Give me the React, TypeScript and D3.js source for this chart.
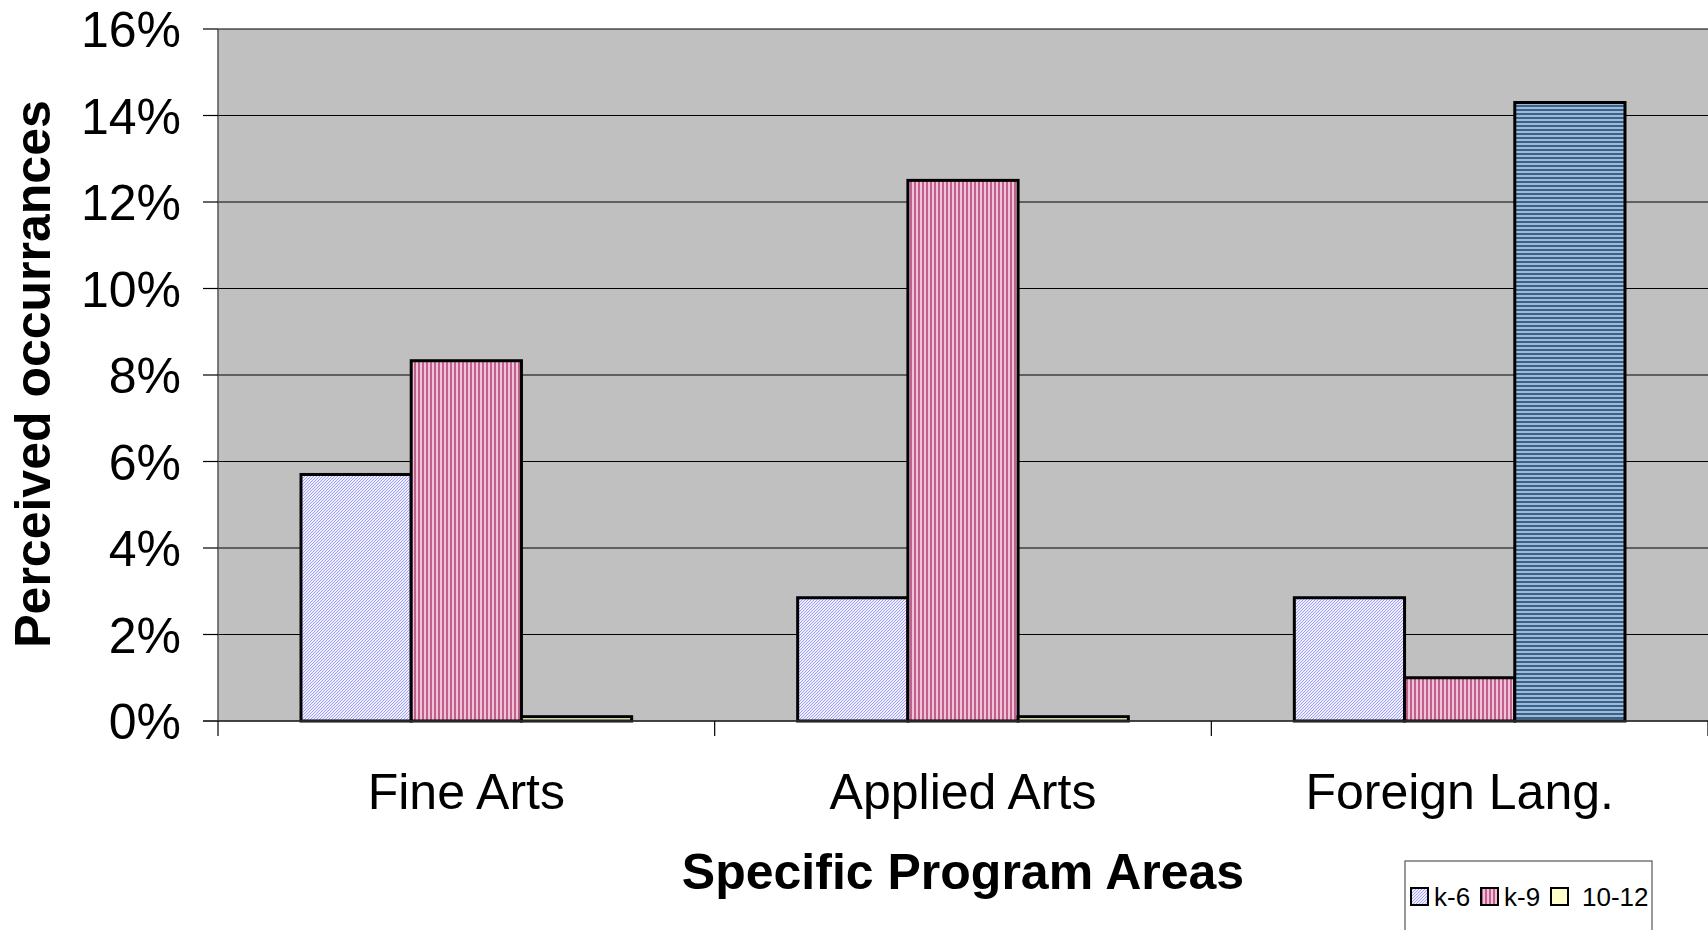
import React from 'react';
import * as d3 from 'd3';

const categories = ['Fine Arts', 'Applied Arts', 'Foreign Lang.'];
const seriesNames = ['k-6', 'k-9', '10-12'];
const k6 = [5.7, 2.85, 2.85];
const k9 = [8.33, 12.5, 1.0];
const g1012 = [0.1, 0.1, 14.3];
const yTicks = [0, 2, 4, 6, 8, 10, 12, 14, 16];

const W = 1708;
const H = 930;
const margin = { top: 29, right: 0, bottom: 209, left: 218 };

const fills = ['url(#pK6)', 'url(#pK9)', '#ffffcc'];

const App = () => {
  const innerW = W - margin.left - margin.right;
  const innerH = H - margin.top - margin.bottom;

  const x = d3.scaleBand().domain(categories).range([0, innerW]).paddingInner(0).paddingOuter(0);
  const xSub = d3.scaleBand().domain(seriesNames).range([83, x.bandwidth() - 83]);
  const y = d3.scaleLinear().domain([0, 16]).range([innerH, 0]);

  const series = [k6, k9, g1012];
  const bars = categories.flatMap((c, ci) =>
    series.map((vals, si) => ({ c, s: seriesNames[si], v: vals[ci], ci, si }))
  );

  return (
    <svg width={W} height={H} style={{ position: 'absolute', left: 0, top: 0, background: '#fff' }}
      fontFamily="'Liberation Sans', Arial, sans-serif">
      <defs>
        <pattern id="pK6" width="3" height="3" patternUnits="userSpaceOnUse">
          <rect width="3" height="3" fill="#eeeeff" />
          <path d="M0,3 L3,0 M-1,1 L1,-1 M2,4 L4,2" stroke="#a0a0ff" strokeWidth="1" />
        </pattern>
        <pattern id="pK9" width="4" height="4" patternUnits="userSpaceOnUse">
          <rect width="4" height="4" fill="#f0c2d6" />
          <rect width="2" height="4" fill="#c0608e" />
        </pattern>
        <pattern id="pBlue" width="4" height="4" patternUnits="userSpaceOnUse">
          <rect width="4" height="4" fill="#a3b9d2" />
          <rect width="4" height="2" fill="#35638f" />
        </pattern>
      </defs>
      <g transform={`translate(${margin.left},${margin.top})`}>
        <rect width={innerW} height={innerH} fill="#c0c0c0" />
        {yTicks.map(t => (
          <line key={t} x1={0} x2={innerW} y1={y(t)} y2={y(t)} stroke="#000" strokeWidth={1.2} />
        ))}
        <line x1={0} x2={0} y1={0} y2={innerH} stroke="#555" strokeWidth={1.5} />
        {bars.map(b => {
          const bx = (x(b.c) ?? 0) + (xSub(b.s) ?? 0);
          const special = b.ci === 2 && b.si === 2;
          return (
            <rect key={b.c + b.s} x={bx} y={y(b.v)} width={xSub.bandwidth()} height={innerH - y(b.v)}
              fill={special ? 'url(#pBlue)' : fills[b.si]} stroke="#000" strokeWidth={3} />
          );
        })}
        {/* y axis ticks */}
        {yTicks.map(t => (
          <g key={'yt' + t}>
            <line x1={-15} x2={0} y1={y(t)} y2={y(t)} stroke="#000" strokeWidth={1.2} />
            <text x={-37} y={y(t)} dy="0.36em" textAnchor="end" fontSize={50}>{t}%</text>
          </g>
        ))}
        {/* x axis */}
        <line x1={-15} x2={innerW} y1={innerH} y2={innerH} stroke="#333" strokeWidth={1.5} />
        {[...categories.map(c => x(c) ?? 0), innerW].map((tx, i) => (
          <line key={'xt' + i} x1={tx} x2={tx} y1={innerH} y2={innerH + 15} stroke="#000" strokeWidth={1.2} />
        ))}
        {categories.map(c => (
          <text key={'xl' + c} x={(x(c) ?? 0) + x.bandwidth() / 2} y={innerH + 88} textAnchor="middle" fontSize={50}>{c}</text>
        ))}
      </g>
      <text x={963} y={889} textAnchor="middle" fontSize={50} fontWeight="bold">Specific Program Areas</text>
      <text transform="translate(50,374) rotate(-90)" textAnchor="middle" fontSize={50} fontWeight="bold">Perceived occurrances</text>
      {/* legend */}
      <g transform="translate(1405,861)">
        <rect x={0} y={0} width={247} height={80} fill="#fff" stroke="#555" strokeWidth={1.2} />
        {seriesNames.map((s, i) => {
          const lx = [6, 76, 146][i];
          const tx = [29, 99, 177][i];
          return (
            <g key={'lg' + s}>
              <rect x={lx} y={27} width={17} height={17} fill={fills[i]} stroke="#000" strokeWidth={2} />
              <text x={tx} y={36} dy="0.36em" fontSize={26}>{s}</text>
            </g>
          );
        })}
      </g>
    </svg>
  );
};

export default App;
